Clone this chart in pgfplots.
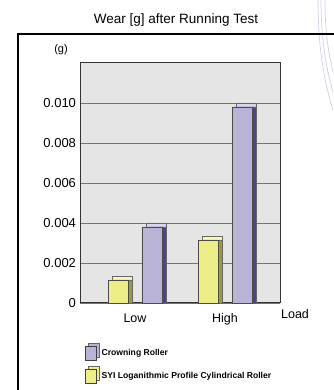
\documentclass[border=0pt]{standalone}
\usepackage{pgfplots}
\pgfplotsset{compat=1.18}
\usepackage{fontspec}
\setmainfont{Liberation Sans}
\definecolor{purpF}{HTML}{B9B3D6}
\definecolor{purpT}{HTML}{D9D5EB}
\definecolor{purpS}{HTML}{4A4590}
\definecolor{yelF}{HTML}{EEEE88}
\definecolor{yelT}{HTML}{F7F7B8}
\definecolor{yelS}{HTML}{9C9A3E}
\definecolor{plotbg}{HTML}{E5E5E5}
\definecolor{arcc}{HTML}{CFCFE6}
\begin{document}
\begin{tikzpicture}[x=1pt,y=1pt]
\useasboundingbox (0pt,0pt) rectangle (333pt,390pt);
\begin{scope}
\clip (0pt,0pt) rectangle (333pt,390pt);
\draw[arcc, line width=0.7pt] (318pt,390pt) .. controls (318pt,345pt) and (323pt,310pt) .. (336pt,270pt);
\draw[arcc, line width=0.7pt] (321pt,390pt) .. controls (321pt,350pt) and (326pt,318pt) .. (337pt,285pt);
\draw[arcc, line width=0.7pt] (325pt,390pt) .. controls (325pt,355pt) and (329pt,330pt) .. (338pt,300pt);
\end{scope}
\draw[line width=1.2pt] (18pt,0pt) -- (18pt,356pt) -- (334pt,356pt);
\begin{axis}[
  at={(80pt,87pt)}, anchor=south west,
  scale only axis, width=200pt, height=240pt,
  xmin=-0.611, xmax=1.611, ymin=0, ymax=0.012,
  scaled y ticks=false,
  axis background/.style={fill=plotbg},
  axis line style={line width=1pt, draw=black!80},
  ytick={0,0.002,0.004,0.006,0.008,0.010},
  yticklabels={0,0.002,0.004,0.006,0.008,0.010},
  xtick={0,1}, xticklabels={Low,High},
  tick style={draw=none},
  ymajorgrids, grid style={draw=black!55, line width=0.8pt},
  yticklabel style={font=\fontsize{13}{15}\selectfont, xshift=-0.5pt},
  xticklabel style={font=\fontsize{12.5}{15}\selectfont, yshift=-3pt},
  /pgf/number format/assume math mode=true,
  ybar, bar width=20pt,
  clip=false,
  legend style={draw=none, fill=none, inner sep=0pt, row sep=5pt,
    font=\fontsize{8.6}{10}\selectfont\bfseries,
    at={(axis description cs:0.025,-0.167)}, anchor=north west,
    cells={anchor=west, inner xsep=4pt}},
  legend image code/.code={
    \fill[#1,draw=black!60,xshift=3pt,yshift=3pt] (0pt,-7pt) rectangle (11pt,7pt);
    \draw[#1,draw=black!75] (0pt,-7pt) rectangle (11pt,7pt);},
]
% purple 3D backs
\addplot[forget plot, bar shift=17pt, fill=purpT, draw=black!60, xshift=4pt, yshift=4pt] coordinates {(0,0.0038) (1,0.0098)};
\addplot[forget plot, bar shift=17pt, fill=purpS, draw=black!60, xshift=4pt] coordinates {(0,0.0038) (1,0.0098)};
% yellow 3D backs
\addplot[forget plot, bar shift=-17pt, fill=yelT, draw=black!60, xshift=4pt, yshift=4pt] coordinates {(0,0.00115) (1,0.00315)};
\addplot[forget plot, bar shift=-17pt, fill=yelS, draw=black!60, xshift=4pt] coordinates {(0,0.00115) (1,0.00315)};
% fronts
\addplot[bar shift=17pt, fill=purpF, draw=black!70] coordinates {(0,0.0038) (1,0.0098)};
\addlegendentry{Crowning Roller}
\addplot[bar shift=-17pt, fill=yelF, draw=black!70] coordinates {(0,0.00115) (1,0.00315)};
\addlegendentry{SYI Loganithmic Profile Cylindrical Roller}
\node[anchor=north, font=\fontsize{12.5}{15}\selectfont, yshift=-3pt, inner sep=0.333em] at (rel axis cs:1.075,0) {\vphantom{Lh}Load};
\end{axis}
\node[font=\fontsize{13.5}{15}\selectfont] at (176pt,370pt) {Wear [g] after Running Test};
\node[font=\fontsize{11}{12}\selectfont] at (61pt,340pt) {(g)};
\end{tikzpicture}
\end{document}
